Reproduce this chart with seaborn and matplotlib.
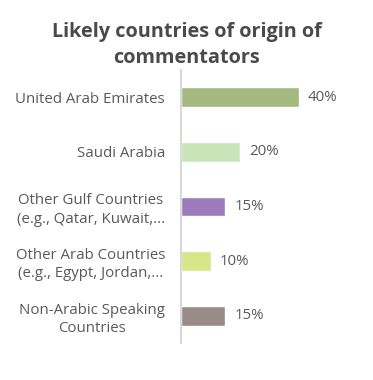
import matplotlib
matplotlib.use("Agg")
import matplotlib.pyplot as plt
import seaborn as sns
import pandas as pd

categories = [
    "United Arab Emirates",
    "Saudi Arabia",
    "Other Gulf Countries\n(e.g., Qatar, Kuwait,...",
    "Other Arab Countries\n(e.g., Egypt, Jordan,...",
    "Non-Arabic Speaking\nCountries",
]
values = [40, 20, 15, 10, 15]
colors = ["#a5b97f", "#c9e5b8", "#9d7bbb", "#d8e68a", "#9a8b88"]
title = "Likely countries of origin of\ncommentators"

sns.set_theme(style="white")
plt.rcParams["font.family"] = ["Open Sans", "DejaVu Sans"]

df = pd.DataFrame({"category": categories, "value": values})

fig = plt.figure(figsize=(3.73, 3.80), dpi=100)
ax = fig.add_axes([181 / 373, 1 - 343 / 380, (328.5 - 181) / 373, (343 - 70) / 380])

sns.barplot(data=df, y="category", x="value", hue="category",
            palette=colors, width=0.36, legend=False, ax=ax, saturation=1)

ax.set_xlim(0, 50)
ax.set_xlabel("")
ax.set_ylabel("")
ax.set_xticks([])
for s in ["top", "right", "bottom"]:
    ax.spines[s].set_visible(False)
ax.spines["left"].set_color("#d9d9d9")
ax.spines["left"].set_linewidth(1.5)
ax.tick_params(axis="y", length=0, pad=11.5, labelsize=10.8, labelcolor="#595959")
for lab in ax.get_yticklabels():
    lab.set_multialignment("center")
    lab.set_linespacing(1.3)

for cont, v in zip(ax.containers, values):
    ax.bar_label(cont, labels=[f"{v}%"], padding=6.5, fontsize=10.8, color="#595959")

fig.text(0.5, 1 - 63 / 380, title, ha="center", va="baseline", fontsize=14.3,
         fontweight="bold", color="#4a4a4a", linespacing=1.4)

fig.savefig("out.png", dpi=100)
